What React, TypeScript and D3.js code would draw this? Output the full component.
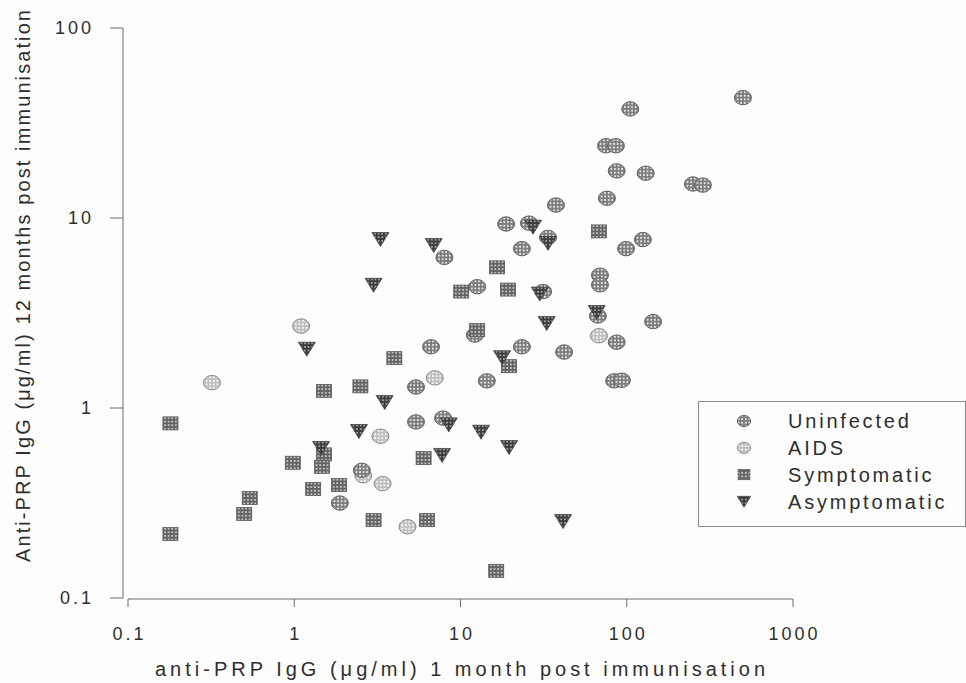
import React from "react";
import * as d3 from "d3";

const W = 966;
const H = 683;

// antibody concentrations (µg/ml): [1 month, 12 months]
const uninfected: [number, number][] = [
  [105, 37.5], [500, 43], [75, 24], [86, 24], [87, 17.7], [130, 17.2],
  [250, 15.1], [287, 14.9], [76, 12.7], [37.5, 11.7], [18.8, 9.3], [25.8, 9.4],
  [33.6, 7.9], [125, 7.7], [99, 6.9], [23.4, 6.9], [8.0, 6.2], [69, 5.0],
  [69, 4.45], [12.6, 4.35], [31.4, 4.1], [67, 3.05], [144, 2.85], [12.2, 2.42],
  [6.65, 2.1], [23.4, 2.1], [87, 2.22], [42, 1.97], [84, 1.39], [93.5, 1.4],
  [14.4, 1.39], [5.4, 1.29], [5.4, 0.845], [7.85, 0.885], [1.88, 0.316], [2.55, 0.47],
];

const aids: [number, number][] = [
  [1.1, 2.7], [0.32, 1.36], [7.0, 1.44], [68, 2.4], [3.3, 0.71], [2.6, 0.44],
  [3.4, 0.4], [4.8, 0.237],
];

const symptomatic: [number, number][] = [
  [0.18, 0.83], [0.18, 0.217], [0.5, 0.277], [0.54, 0.336], [0.98, 0.515],
  [1.3, 0.375], [1.51, 1.23], [1.51, 0.57], [1.47, 0.49], [1.86, 0.393],
  [2.5, 1.3], [4.0, 1.83], [3.0, 0.257], [6.3, 0.257], [6.0, 0.545],
  [16.4, 0.139], [12.6, 2.57], [19.6, 1.66], [16.6, 5.5], [10.1, 4.1],
  [19.3, 4.2], [68, 8.5],
];

const asymptomatic: [number, number][] = [
  [1.19, 2.05], [3.3, 7.75], [6.9, 7.2], [3.0, 4.45], [27.3, 9.0], [33.6, 7.4],
  [30, 4.0], [66, 3.2], [33, 2.8], [17.8, 1.85], [3.5, 1.075], [2.45, 0.757],
  [1.45, 0.616], [8.5, 0.82], [13.3, 0.75], [19.6, 0.623], [7.75, 0.566],
  [41.4, 0.254],
];

const xTicks = [0.1, 1, 10, 100, 1000];
const xTickLabels = ["0.1", "1", "10", "100", "1000"];
const yTicks = [0.1, 1, 10, 100];
const yTickLabels = ["0.1", "1", "10", "100"];
const groupNames = ["Uninfected", "AIDS", "Symptomatic", "Asymptomatic"];

const xTitle = "anti-PRP IgG (\u03bcg/ml) 1 month post immunisation";
const yTitle = "Anti-PRP IgG (\u03bcg/ml) 12 months post immunisation";

const FONT = "'Liberation Sans', Arial, Helvetica, sans-serif";
const TEXT = "#2e2e2e";
const AXIS = "#6a6a6a";

type Shape = "circle" | "square" | "triangle";

function Marker({ shape, fill, stroke, s = 1 }: { shape: Shape; fill: string; stroke: string; s?: number }) {
  if (shape === "circle") {
    return <ellipse rx={8.5 * s} ry={7.2 * s} fill={fill} stroke={stroke} strokeWidth={1} />;
  }
  if (shape === "square") {
    return <rect x={-7.5 * s} y={-6.5 * s} width={15 * s} height={13 * s} fill={fill} stroke={stroke} strokeWidth={0.8} />;
  }
  const p = d3.path();
  p.moveTo(-8.5 * s, -6.5 * s);
  p.lineTo(8.5 * s, -6.5 * s);
  p.lineTo(0, 7.5 * s);
  p.closePath();
  return <path d={p.toString()} fill={fill} stroke={stroke} strokeWidth={0.8} strokeLinejoin="round" />;
}

export default function App() {
  const x = d3.scaleLog().domain([0.1, 1000]).range([128, 793]);
  const y = d3.scaleLog().domain([0.1, 100]).range([598, 28]);

  const series: { name: string; data: [number, number][]; shape: Shape; fill: string; stroke: string }[] = [
    { name: groupNames[1], data: aids, shape: "circle", fill: "url(#pAids)", stroke: "#8a8a8a" },
    { name: groupNames[0], data: uninfected, shape: "circle", fill: "url(#pUninf)", stroke: "#666" },
    { name: groupNames[2], data: symptomatic, shape: "square", fill: "url(#pSym)", stroke: "#5a5a5a" },
    { name: groupNames[3], data: asymptomatic, shape: "triangle", fill: "url(#pAsym)", stroke: "#444" },
  ];
  const legendOrder = [series[1], series[0], series[2], series[3]];

  const dotPattern = (id: string, bg: string, dot: string, r: number) => (
    <pattern id={id} patternUnits="userSpaceOnUse" width={3.6} height={3.6}>
      <rect width={3.6} height={3.6} fill={bg} />
      <circle cx={1.8} cy={1.8} r={r} fill={dot} />
    </pattern>
  );

  return (
    <svg
      width={W}
      height={H}
      viewBox={`0 0 ${W} ${H}`}
      style={{ position: "absolute", left: 0, top: 0, background: "#fdfdfd" }}
    >
      <defs>
        {dotPattern("pUninf", "#7a7a7a", "#ececec", 1.05)}
        {dotPattern("pAids", "#bdbdbd", "#f6f6f6", 1.1)}
        {dotPattern("pSym", "#636363", "#dcdcdc", 1.0)}
        {dotPattern("pAsym", "#3c3c3c", "#b8b8b8", 0.95)}
      </defs>
      <rect width={W} height={H} fill="#fdfdfd" />

      {/* y axis */}
      <line x1={123} x2={123} y1={y(100)} y2={y(0.1)} stroke={AXIS} strokeWidth={1} />
      {yTicks.map((t, i) => (
        <g key={`yt${t}`} transform={`translate(0,${y(t)})`}>
          <line x1={110} x2={123} stroke={AXIS} strokeWidth={1} />
          <text
            x={94}
            dy="0.36em"
            textAnchor="end"
            fontFamily={FONT}
            fontSize={18}
            letterSpacing={3}
            fill={TEXT}
          >
            {yTickLabels[i]}
          </text>
        </g>
      ))}

      {/* x axis */}
      <line x1={x(0.1)} x2={x(1000)} y1={599} y2={599} stroke={AXIS} strokeWidth={1} />
      {xTicks.map((t, i) => (
        <g key={`xt${t}`} transform={`translate(${x(t)},0)`}>
          <line y1={599} y2={607} stroke={AXIS} strokeWidth={1} />
          <text
            y={640}
            dx={1.5}
            textAnchor="middle"
            fontFamily={FONT}
            fontSize={18}
            letterSpacing={3}
            fill={TEXT}
          >
            {xTickLabels[i]}
          </text>
        </g>
      ))}

      {/* axis titles */}
      <text
        x={460}
        y={676}
        textAnchor="middle"
        fontFamily={FONT}
        fontSize={20}
        fill={TEXT}
        textLength={610}
        lengthAdjust="spacing"
      >
        {xTitle}
      </text>
      <text
        transform={`translate(30,286) rotate(-90)`}
        textAnchor="middle"
        fontFamily={FONT}
        fontSize={20}
        fill={TEXT}
        textLength={552}
        lengthAdjust="spacing"
      >
        {yTitle}
      </text>

      {/* points */}
      {series.map((s) => (
        <g key={s.name}>
          {s.data.map((d, i) => (
            <g key={i} transform={`translate(${x(d[0])},${y(d[1])})`}>
              <Marker shape={s.shape} fill={s.fill} stroke={s.stroke} />
            </g>
          ))}
        </g>
      ))}

      {/* legend */}
      <rect x={698.5} y={401.5} width={267} height={125} fill="#fdfdfd" stroke="#8a8a8a" strokeWidth={1} />
      {legendOrder.map((s, i) => (
        <g key={`lg${s.name}`} transform={`translate(0,${421 + i * 26.8})`}>
          <g transform="translate(744,0)">
            <Marker shape={s.shape} fill={s.fill} stroke={s.stroke} s={0.78} />
          </g>
          <text
            x={788}
            dy="0.36em"
            fontFamily={FONT}
            fontSize={20}
            letterSpacing={2.8}
            fill={TEXT}
          >
            {s.name}
          </text>
        </g>
      ))}
    </svg>
  );
}
